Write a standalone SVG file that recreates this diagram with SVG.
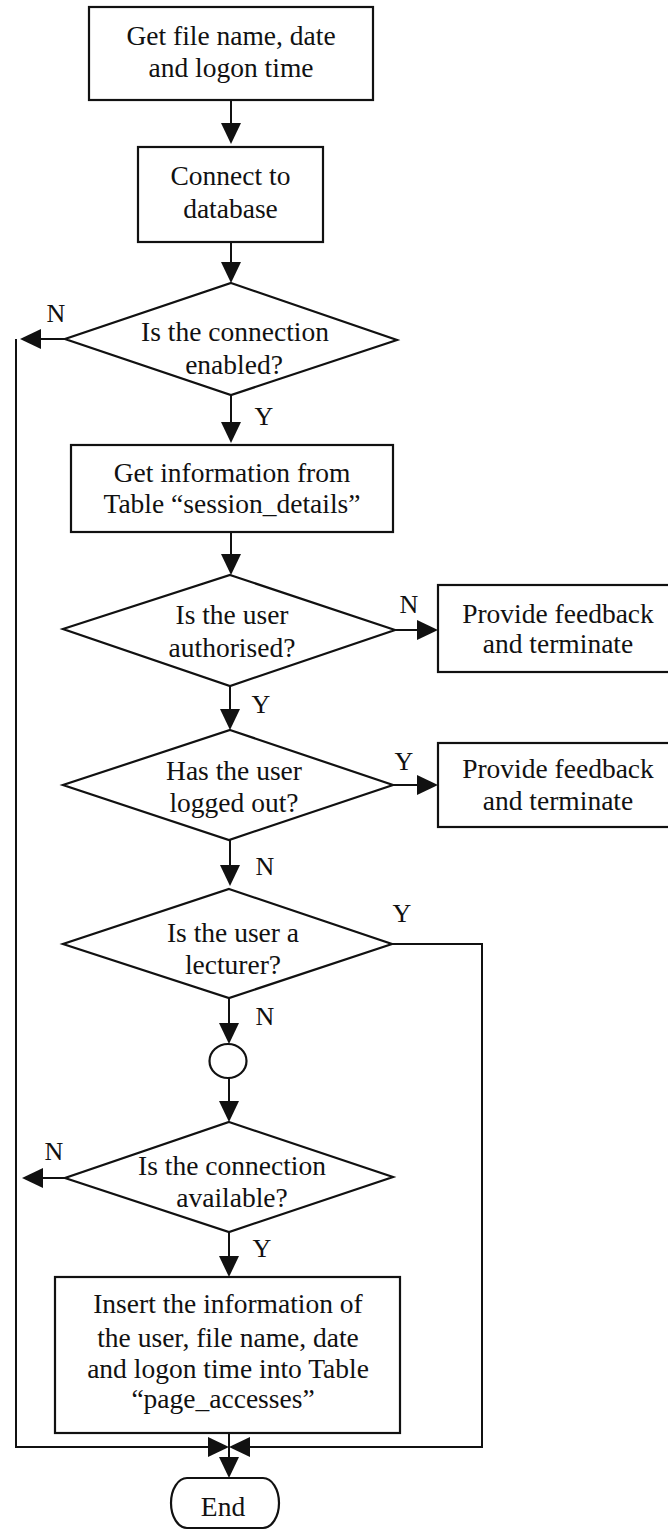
<svg xmlns="http://www.w3.org/2000/svg" width="668" height="1530" viewBox="0 0 668 1530">
  <style>
    .shape { fill: #ffffff; stroke: #111111; stroke-width: 2.2; }
    .wire { fill: none; stroke: #111111; stroke-width: 2; }
    .arrow { marker-end: url(#head); }
    text { font-family: "Liberation Serif", "Times New Roman", serif; fill: #111111; }
    .t { font-size: 27.5px; text-anchor: middle; }
    .lbl { font-size: 26px; text-anchor: middle; }
  </style>
  <defs>
    <marker id="head" markerUnits="userSpaceOnUse" markerWidth="22" markerHeight="22" refX="18" refY="10" orient="auto">
      <path d="M0,0 L21,10 L0,20 Z" fill="#111111"/>
    </marker>
  </defs>
  <rect width="668" height="1530" fill="#ffffff"/>

  <!-- connectors -->
  <g id="connectors">
    <line class="wire arrow" x1="231" y1="100" x2="231" y2="141"/>
    <line class="wire arrow" x1="231" y1="242" x2="231" y2="280"/>
    <!-- N branch of first connection test, down the left side -->
    <line class="wire arrow" x1="65" y1="339" x2="23" y2="339"/>
    <polyline class="wire" points="16,339 16,1447 210,1447"/>
    <line class="wire arrow" x1="16" y1="1447" x2="226" y2="1447"/>
    <line class="wire arrow" x1="231" y1="395" x2="231" y2="440"/>
    <line class="wire arrow" x1="231" y1="532" x2="231" y2="572"/>
    <line class="wire arrow" x1="395" y1="630" x2="435" y2="630"/>
    <line class="wire arrow" x1="230" y1="686" x2="230" y2="727"/>
    <line class="wire arrow" x1="393" y1="785" x2="435" y2="785"/>
    <line class="wire arrow" x1="230" y1="840" x2="230" y2="883"/>
    <!-- Y branch of lecturer test, down the right side -->
    <polyline class="wire" points="392,944 482,944 482,1447 250,1447"/>
    <line class="wire arrow" x1="482" y1="1447" x2="232" y2="1447"/>
    <line class="wire arrow" x1="229" y1="998" x2="229" y2="1041"/>
    <line class="wire arrow" x1="229" y1="1078" x2="229" y2="1119"/>
    <line class="wire arrow" x1="65" y1="1178" x2="25" y2="1178"/>
    <line class="wire arrow" x1="229" y1="1232" x2="229" y2="1274"/>
    <line class="wire arrow" x1="229" y1="1433" x2="229" y2="1475"/>
    <!-- branch labels -->
    <text class="lbl" x="56" y="322">N</text>
    <text class="lbl" x="264" y="425">Y</text>
    <text class="lbl" x="409" y="613">N</text>
    <text class="lbl" x="261" y="713">Y</text>
    <text class="lbl" x="404" y="770">Y</text>
    <text class="lbl" x="265" y="875">N</text>
    <text class="lbl" x="402" y="922">Y</text>
    <text class="lbl" x="265" y="1025">N</text>
    <text class="lbl" x="54" y="1160">N</text>
    <text class="lbl" x="262" y="1257">Y</text>
  </g>

  <g id="get-file-info">
    <rect class="shape" x="89" y="7" width="284" height="93"/>
    <text class="t" x="231" y="45">Get file name, date</text>
    <text class="t" x="231" y="77">and logon time</text>
  </g>

  <g id="connect-db">
    <rect class="shape" x="138" y="147" width="185" height="95"/>
    <text class="t" x="230.5" y="185">Connect to</text>
    <text class="t" x="230.5" y="218">database</text>
  </g>

  <g id="connection-enabled">
    <polygon class="shape" points="231,283 397,340 231,395 65,339"/>
    <text class="t" x="235" y="341">Is the connection</text>
    <text class="t" x="234" y="374">enabled?</text>
  </g>

  <g id="get-session-details">
    <rect class="shape" x="71" y="445" width="322" height="87"/>
    <text class="t" x="232" y="482">Get information from</text>
    <text class="t" x="232" y="513">Table “session_details”</text>
  </g>

  <g id="user-authorised">
    <polygon class="shape" points="230,575 395,630 230,686 63,629"/>
    <text class="t" x="232" y="624">Is the user</text>
    <text class="t" x="232" y="657">authorised?</text>
  </g>

  <g id="feedback-unauthorised">
    <rect class="shape" x="438" y="585" width="236" height="87"/>
    <text class="t" x="558" y="623">Provide feedback</text>
    <text class="t" x="558" y="653">and terminate</text>
  </g>

  <g id="logged-out">
    <polygon class="shape" points="230,730 393,785 229,840 63,785"/>
    <text class="t" x="234" y="780">Has the user</text>
    <text class="t" x="234" y="812">logged out?</text>
  </g>

  <g id="feedback-logged-out">
    <rect class="shape" x="438" y="743" width="236" height="84"/>
    <text class="t" x="558" y="778">Provide feedback</text>
    <text class="t" x="558" y="810">and terminate</text>
  </g>

  <g id="is-lecturer">
    <polygon class="shape" points="229,889 392,944 229,998 63,944"/>
    <text class="t" x="233" y="942">Is the user a</text>
    <text class="t" x="233" y="974">lecturer?</text>
  </g>

  <g id="connector-point">
    <ellipse class="shape" cx="228" cy="1061" rx="18.5" ry="17"/>
  </g>

  <g id="connection-available">
    <polygon class="shape" points="229,1122 393,1177 229,1232 65,1178"/>
    <text class="t" x="232" y="1175">Is the connection</text>
    <text class="t" x="232" y="1207">available?</text>
  </g>

  <g id="insert-page-access">
    <rect class="shape" x="55" y="1277" width="345" height="156"/>
    <text class="t" x="228" y="1313">Insert the information of</text>
    <text class="t" x="228" y="1347">the user, file name, date</text>
    <text class="t" x="228" y="1378">and logon time into Table</text>
    <text class="t" x="223" y="1408">“page_accesses”</text>
  </g>

  <g id="end">
    <rect class="shape" x="171" y="1478" width="108" height="50" rx="16" ry="25"/>
    <text class="t" x="223" y="1516">End</text>
  </g>
</svg>
